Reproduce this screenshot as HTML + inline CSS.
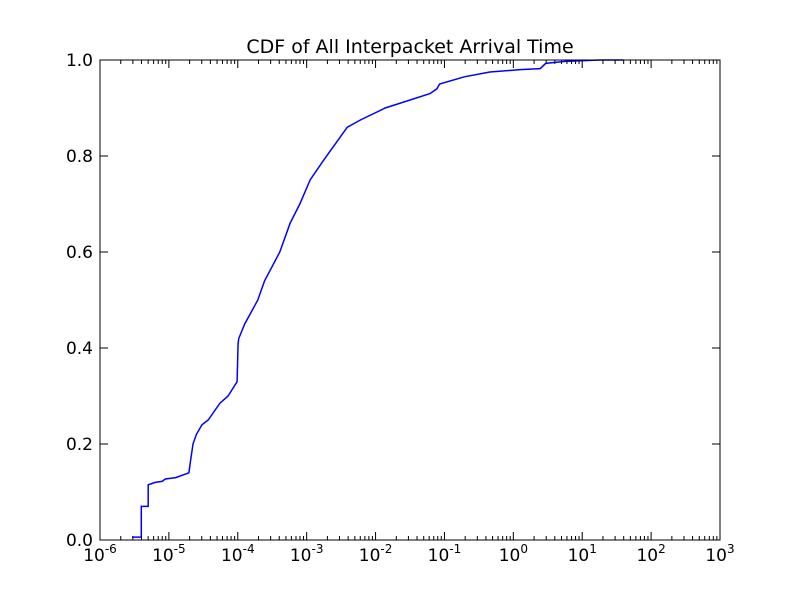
<!DOCTYPE html>
<html><head><meta charset="utf-8"><style>
body{margin:0;background:#fff;}
svg text{font-family:"DejaVu Sans","Liberation Sans",sans-serif;}
</style></head>
<body>
<svg id="chart" width="800" height="600" xmlns="http://www.w3.org/2000/svg">
<rect width="800" height="600" fill="#fff"/>
<text x="410" y="53" text-anchor="middle" font-size="19">CDF of All Interpacket Arrival Time</text>
<g id="ticks"></g>
<path id="curve" fill="none" stroke="#0000ff" stroke-width="1.5"/>
<rect x="100" y="60" width="620" height="480" fill="none" stroke="#000" stroke-width="1"/>
</svg>
<script>
const logX = [-5.535,-5.40,-5.40,-5.30,-5.30,-5.20,-5.10,-5.05,-4.90,-4.71,-4.69,-4.65,-4.60,-4.52,-4.43,-4.26,-4.14,-4.01,-3.995,-3.985,-3.90,-3.71,-3.61,-3.39,-3.24,-3.10,-2.95,-2.76,-2.41,-2.22,-1.86,-1.21,-1.11,-1.07,-0.71,-0.34,0.10,0.39,0.47,0.75,1.26,1.6];
const cdf  = [0.006,0.006,0.07,0.07,0.115,0.12,0.122,0.127,0.13,0.14,0.16,0.20,0.22,0.24,0.25,0.285,0.30,0.33,0.41,0.42,0.45,0.50,0.54,0.60,0.66,0.70,0.75,0.79,0.86,0.875,0.90,0.93,0.94,0.95,0.965,0.975,0.98,0.982,0.993,0.997,1.0,1.0];
const xTickExp = [-6,-5,-4,-3,-2,-1,0,1,2,3];
const yTicks = [0.0,0.2,0.4,0.6,0.8,1.0];
const X0=100,X1=720,Y0=540,Y1=60,LMIN=-6,LMAX=3;
function xs(l){return X0+(l-LMIN)/(LMAX-LMIN)*(X1-X0);}
function ys(v){return Y0-v*(Y0-Y1);}
const NS="http://www.w3.org/2000/svg";
const g=document.getElementById('ticks');
function line(x1,y1,x2,y2,name){const e=document.createElementNS(NS,'line');e.setAttribute('x1',x1);e.setAttribute('y1',y1);e.setAttribute('x2',x2);e.setAttribute('y2',y2);e.setAttribute('stroke','#000');e.setAttribute('stroke-width','1');


g.appendChild(e);}
xTickExp.forEach(p=>{
 const x=xs(p);
 line(x,Y0,x,Y0-8,'x-major-tick');line(x,Y1,x,Y1+8,'x-major-tick');
 if(p<LMAX){for(let k=2;k<10;k++){const xm=xs(p+Math.log10(k));line(xm,Y0,xm,Y0-4,'x-minor-tick');line(xm,Y1,xm,Y1+4,'x-minor-tick');}}
 const t=document.createElementNS(NS,'text');t.setAttribute('x',x);t.setAttribute('y',561);t.setAttribute('text-anchor','middle');t.setAttribute('font-size','17');
 
 
 t.innerHTML='10<tspan dy="-8" font-size="12">'+p+'</tspan>';g.appendChild(t);
});
yTicks.forEach(v=>{
 const y=ys(v);line(X0,y,X0+8,y,'y-major-tick');line(X1,y,X1-8,y,'y-major-tick');
 const t=document.createElementNS(NS,'text');t.setAttribute('x',93);t.setAttribute('y',y+6);t.setAttribute('text-anchor','end');t.setAttribute('font-size','17');
 
 
 t.textContent=v.toFixed(1);g.appendChild(t);
});
let d='';logX.forEach((l,i)=>{d+=(i?'L':'M')+xs(l).toFixed(1)+','+ys(cdf[i]).toFixed(1);});
document.getElementById('curve').setAttribute('d',d);
</script>
</body></html>
